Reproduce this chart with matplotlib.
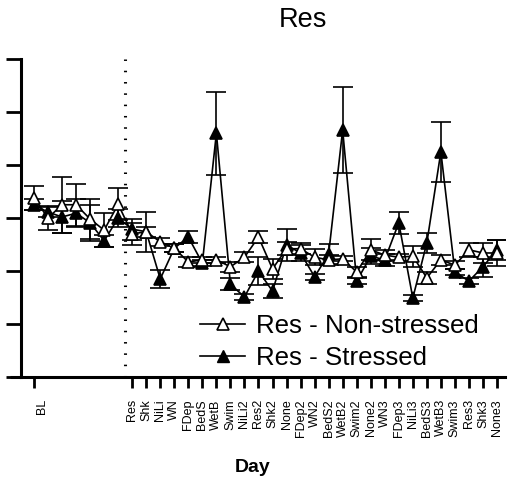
import numpy as np
import matplotlib
matplotlib.use('Agg')
import matplotlib.pyplot as plt
from matplotlib.lines import Line2D
import matplotlib.transforms as mtransforms

plt.rcParams['font.family'] = ['Liberation Sans', 'DejaVu Sans']

# ---------------- data ----------------
n_baseline = 7
day_labels = ['Res', 'Shk', 'NiLi', 'WN', 'FDep', 'BedS', 'WetB', 'Swim', 'NiLi2',
              'Res2', 'Shk2', 'None', 'FDep2', 'WN2', 'BedS2', 'WetB2', 'Swim2',
              'None2', 'WN3', 'FDep3', 'NiLi3', 'BedS3', 'WetB3', 'Swim3', 'Res3',
              'Shk3', 'None3']

nonstressed_mean = [3.38, 3.00, 3.25, 3.25, 2.98, 2.77, 3.26,
                    2.70, 2.74, 2.55, 2.43, 2.17, 2.21, 2.21, 2.08, 2.26,
                    2.64, 2.04, 2.42, 2.42, 2.26, 2.21, 2.23, 1.98,
                    2.40, 2.30, 2.26, 2.28, 1.87, 2.21, 2.11, 2.40, 2.34, 2.34]
nonstressed_sem = [0.23, 0.23, 0.53, 0.40, 0.38, 0.32, 0.30,
                   0.21, 0.09, 0.08, 0.08, 0.09, 0.06, 0.05, 0.09, 0.09,
                   0.11, 0.19, 0.12, 0.10, 0.15, 0.10, 0.05, 0.10,
                   0.20, 0.10, 0.07, 0.20, 0.11, 0.10, 0.07, 0.13, 0.19, 0.24]

stressed_mean = [3.25, 3.11, 3.02, 3.09, 2.91, 2.57, 3.00,
                 2.79, 2.74, 1.85, 2.43, 2.64, 2.15, 4.60, 1.75, 1.51,
                 2.00, 1.62, 2.49, 2.34, 1.89, 2.32, 4.66, 1.81,
                 2.28, 2.21, 2.91, 1.49, 2.53, 4.25, 1.98, 1.81, 2.08, 2.40]
stressed_sem = [0.10, 0.10, 0.30, 0.26, 0.34, 0.11, 0.17,
                0.20, 0.38, 0.17, 0.08, 0.11, 0.06, 0.78, 0.11, 0.06,
                0.26, 0.13, 0.30, 0.15, 0.06, 0.19, 0.81, 0.06,
                0.15, 0.12, 0.21, 0.06, 0.19, 0.57, 0.06, 0.06, 0.19, 0.19]

# ---------------- layout ----------------
W, H = 508, 488
fig = plt.figure(figsize=(W / 100, H / 100), dpi=100)
ax_l, ax_r, ax_t, ax_b = 21, 505, 59, 377
ax = fig.add_axes([ax_l / W, 1 - ax_b / H, (ax_r - ax_l) / W, (ax_b - ax_t) / H])

x = np.arange(n_baseline + len(day_labels))
px_per_unit = 14.03
x0_px = 34

common = dict(fmt='-^', color='black', ms=8.5, lw=1.2, elinewidth=1.2,
              capsize=7, capthick=1.6, mec='black', mew=1.2)
ax.errorbar(x, stressed_mean, yerr=stressed_sem, mfc='black', zorder=3, **common)
ax.errorbar(x, nonstressed_mean, yerr=nonstressed_sem, mfc='white', zorder=4, **common)

ax.axvline(n_baseline - 0.5, color='black', lw=2.2, linestyle=(0, (0.5, 3.2)), zorder=2)

ax.set_xlim(-(x0_px - ax_l) / px_per_unit, (ax_r - x0_px) / px_per_unit)
ax.set_ylim(0, 6)
ax.set_yticks(np.arange(0, 7))
ax.tick_params(axis='y', length=11, width=2, labelleft=False)

ticks = [0] + list(range(n_baseline, n_baseline + len(day_labels)))
labels = ['BL'] + day_labels
ax.set_xticks(ticks)
ax.set_xticklabels(labels, rotation=90, va='top', ha='center', fontsize=9)
ax.tick_params(axis='x', length=8, width=2, pad=8)
bl = ax.get_xticklabels()[0]
bl.set_transform(bl.get_transform() + mtransforms.ScaledTranslation(8 / 100, 0, fig.dpi_scale_trans))

for s in ['top', 'right']:
    ax.spines[s].set_visible(False)
for s in ['left', 'bottom']:
    ax.spines[s].set_linewidth(2.2)

# extend the x axis line to the left of the y axis
fig.add_artist(Line2D([10 / W, ax_l / W], [1 - ax_b / H] * 2, lw=2.2, color='black',
                      transform=fig.transFigure, solid_capstyle='butt'))

h_open = Line2D([], [], color='black', marker='^', mfc='white', mec='black', ms=8.5, lw=1.2, mew=1.2)
h_fill = Line2D([], [], color='black', marker='^', mfc='black', mec='black', ms=8.5, lw=1.2)
ax.legend([h_open, h_fill], ['Res - Non-stressed', 'Res - Stressed'],
          loc='center left', bbox_to_anchor=(0.37, 0.11), frameon=False,
          fontsize=18.6, handlelength=1.75, handletextpad=0.4, labelspacing=0.3,
          borderpad=0, borderaxespad=0)

fig.text(303 / W, 1 - 20 / H, 'Res', ha='center', va='center', fontsize=19.5)
fig.text(253 / W, 1 - 468 / H, 'Day', ha='center', va='center', fontsize=14, fontweight='bold')

fig.savefig('out.png', dpi=100)
